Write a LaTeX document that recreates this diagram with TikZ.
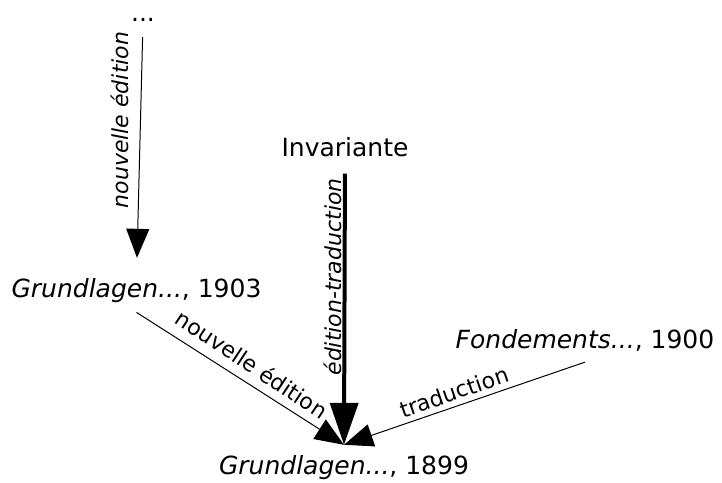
\documentclass[tikz,border=0pt]{standalone}
\usepackage{fontspec}
\setmainfont{DejaVu Sans}
\usetikzlibrary{arrows.meta}
\tikzset{
  ouvrage/.style={inner sep=0pt, anchor=base, font=\fontsize{25}{30}\selectfont},
  etiq/.style={inner sep=0pt, font=\fontsize{22}{26}\selectfont},
  etiqit/.style={etiq, font=\fontsize{22}{26}\selectfont\itshape},
  fleche/.style={line width=1pt, -{Triangle[length=29pt,width=23pt]}},
  grossefleche/.style={line width=4pt, -{Triangle[length=42pt,width=28pt]}}
}
\begin{document}
\begin{tikzpicture}[x=1pt,y=-1pt]
\useasboundingbox (0,0) rectangle (722,482);

\node[ouvrage] (suite) at (143,21) {...};
\node[ouvrage] (g1903) at (136.5,297) {\textit{Grundlagen...}, 1903};
\node[ouvrage] (inv)   at (345,156) {Invariante};
\node[ouvrage] (fond)  at (585,348) {\textit{Fondements...}, 1900};
\node[ouvrage] (g1899) at (344,474) {\textit{Grundlagen...}, 1899};
\coordinate (conv) at ([yshift=10pt]g1899.north);

\draw[fleche, shorten <=16pt, shorten >=20pt] (suite.south) -- (g1903.north);
\draw[grossefleche, shorten <=17pt] (inv.south) -- (conv);
\draw[fleche] ([yshift=-10pt]g1903.south) -- (conv);
\draw[fleche] ([yshift=-11pt]fond.south) -- (conv);

\node[etiqit, rotate=90]    (e1) at (119.5,120) {nouvelle édition};
\node[etiqit, rotate=90]    (e2) at (333,277)   {édition-traduction};
\node[etiq, rotate=-33.5]   (e3) at (252,364)   {nouvelle édition};
\node[etiq, rotate=19]      (e4) at (454,392)   {traduction};
\end{tikzpicture}
\end{document}
